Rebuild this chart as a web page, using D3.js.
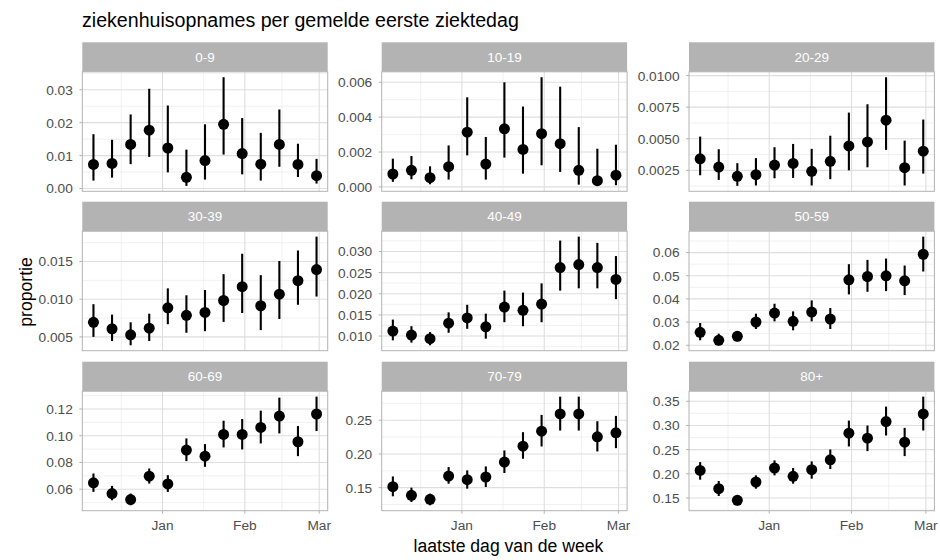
<!DOCTYPE html>
<html><head><meta charset="utf-8">
<script src="https://cdn.jsdelivr.net/npm/d3@7"></script>
<style>
body{margin:0;background:#fff}
svg text{font-family:"Liberation Sans",Arial,Helvetica,sans-serif}
</style>
</head><body>
<svg id="chart" width="940" height="560"></svg>
<script>
// ---------- data ----------
const groups = ["0-9","10-19","20-29","30-39","40-49","50-59","60-69","70-79","80+"];
const weeks = ["2020-12-06","2020-12-13","2020-12-20","2020-12-27","2021-01-03","2021-01-10","2021-01-17",
               "2021-01-24","2021-01-31","2021-02-07","2021-02-14","2021-02-21","2021-02-28"];
const xTickDates = ["2021-01-01","2021-02-01","2021-03-01"];
const xTickLabels = ["Jan","Feb","Mar"];

const estimate = [
  [0.0073,0.0076,0.0134,0.0177,0.0123,0.0034,0.0085,0.0195,0.0106,0.0074,0.0134,0.0073,0.0039],
  [0.00074,0.00095,0.00053,0.00116,0.00314,0.00131,0.00333,0.00215,0.00305,0.00248,0.00095,0.00036,0.00067],
  [0.00341,0.00276,0.00203,0.00216,0.00292,0.00305,0.00242,0.00321,0.00443,0.00475,0.00647,0.00271,0.00402],
  [0.00694,0.00607,0.00528,0.00616,0.00886,0.00786,0.00825,0.00983,0.01166,0.00913,0.01066,0.01245,0.01393],
  [0.01117,0.01023,0.00938,0.01303,0.01428,0.01218,0.01685,0.01607,0.01755,0.02619,0.02689,0.02619,0.02339],
  [0.02559,0.02215,0.02387,0.03004,0.03391,0.03032,0.03434,0.03133,0.04824,0.04968,0.04996,0.04781,0.05928],
  [0.06475,0.05675,0.05225,0.06975,0.064,0.08925,0.08475,0.101,0.101,0.10625,0.11475,0.0955,0.11625],
  [0.1515,0.1387,0.1328,0.1672,0.1618,0.1658,0.1879,0.2116,0.2337,0.2594,0.2594,0.2254,0.2313],
  [0.207,0.1692,0.1452,0.183,0.2119,0.1947,0.2084,0.229,0.284,0.2737,0.3081,0.2655,0.3239]
];
const lower = [
  [0.0024,0.0033,0.0074,0.0096,0.0049,0.0008,0.0027,0.0103,0.0043,0.0024,0.0066,0.0035,0.0015],
  [0.00029,0.00044,0.00015,0.00042,0.00181,0.00042,0.00168,0.00076,0.00124,0.00086,0.00013,0.00006,0.0001],
  [0.00211,0.00174,0.00127,0.0013,0.00187,0.0019,0.0013,0.0018,0.0025,0.00274,0.00412,0.0013,0.00224],
  [0.0050,0.00445,0.00389,0.00445,0.00668,0.00555,0.00576,0.00699,0.00817,0.0059,0.00738,0.00926,0.01035],
  [0.00899,0.00844,0.00782,0.01078,0.01171,0.00938,0.01327,0.01233,0.01327,0.02074,0.02128,0.02128,0.01872],
  [0.02215,0.0200,0.02172,0.02703,0.03032,0.02645,0.03032,0.02703,0.04194,0.04308,0.04337,0.04165,0.05183],
  [0.058,0.05175,0.048,0.06425,0.058,0.081,0.07675,0.09125,0.08975,0.09425,0.10175,0.08475,0.1035],
  [0.1372,0.1288,0.1239,0.1559,0.1485,0.151,0.1717,0.1929,0.2111,0.2347,0.2347,0.2037,0.2086],
  [0.1878,0.1541,0.1349,0.1692,0.1967,0.1796,0.1899,0.2098,0.2565,0.2469,0.2792,0.2366,0.2895]
];
const upper = [
  [0.0165,0.0148,0.0225,0.0303,0.0252,0.0118,0.0195,0.0338,0.0214,0.0169,0.0240,0.0136,0.0090],
  [0.00162,0.00177,0.00118,0.00238,0.00514,0.00286,0.0060,0.00461,0.00629,0.00575,0.00343,0.00219,0.00242],
  [0.00517,0.00417,0.00307,0.00347,0.00433,0.00459,0.0042,0.00524,0.00707,0.00773,0.00987,0.00485,0.00652],
  [0.00934,0.00795,0.00694,0.00808,0.01144,0.01052,0.01122,0.01332,0.01603,0.01319,0.01507,0.01646,0.0183],
  [0.01389,0.01233,0.01093,0.0156,0.01739,0.01529,0.02074,0.02027,0.02245,0.03257,0.0335,0.03202,0.02891],
  [0.0296,0.025,0.02602,0.03362,0.03792,0.03462,0.03935,0.03606,0.05498,0.05685,0.05742,0.05441,0.06688],
  [0.07175,0.0625,0.05675,0.0755,0.0705,0.098,0.09375,0.11125,0.1125,0.11875,0.1285,0.10725,0.12925],
  [0.1667,0.15,0.1411,0.1805,0.1756,0.1815,0.2052,0.2323,0.2579,0.285,0.285,0.2485,0.2564],
  [0.2242,0.1851,0.1555,0.1967,0.2277,0.2119,0.2256,0.2503,0.3101,0.2998,0.339,0.295,0.3596]
];
const yTickLabels = [
  ["0.00","0.01","0.02","0.03"],
  ["0.000","0.002","0.004","0.006"],
  ["0.0025","0.0050","0.0075","0.0100"],
  ["0.005","0.010","0.015"],
  ["0.010","0.015","0.020","0.025","0.030"],
  ["0.02","0.03","0.04","0.05","0.06"],
  ["0.06","0.08","0.10","0.12"],
  ["0.15","0.20","0.25"],
  ["0.15","0.20","0.25","0.30","0.35"]
];
const titleText = "ziekenhuisopnames per gemelde eerste ziektedag";
const xTitle = "laatste dag van de week";
const yTitle = "proportie";

// ---------- layout ----------
const colLeft = [82.3, 381.7, 689];
const panelW = 245.4;
const rowTop = [42.3, 201.7, 361.7];
const stripH = 29.5, plotH = 119.5;
const grey70 = "#B3B3B3", grey87 = "#DEDEDE", grey30 = "#4D4D4D";

const svg = d3.select("#chart");
svg.append("rect").attr("width",940).attr("height",560).attr("fill","#fff");

const dates = weeks.map(d => new Date(d + "T00:00:00Z"));
const dMin = d3.min(dates), dMax = d3.max(dates);
const span = dMax - dMin;
const x = d3.scaleUtc()
  .domain([new Date(+dMin - 0.05*span), new Date(+dMax + 0.05*span)])
  .range([0, panelW]);
const xMajor = xTickDates.map(d => new Date(d + "T00:00:00Z"));
const xMinorAll = [new Date("2020-12-01T00:00:00Z"), ...xMajor];
const xMinor = [];
for (let i = 0; i < xMinorAll.length - 1; i++) xMinor.push(new Date((+xMinorAll[i] + +xMinorAll[i+1]) / 2));

groups.forEach((g, gi) => {
  const col = gi % 3, row = Math.floor(gi / 3);
  const left = colLeft[col], sTop = rowTop[row], pTop = sTop + stripH;
  const lo = lower[gi], hi = upper[gi], est = estimate[gi];
  const yMin = d3.min(lo), yMax = d3.max(hi), yr = yMax - yMin;
  const y = d3.scaleLinear().domain([yMin - 0.05*yr, yMax + 0.05*yr]).range([plotH, 0]);
  const ticks = yTickLabels[gi].map(Number);
  const step = ticks[1] - ticks[0];
  const minor = [];
  for (let t = ticks[0] - step/2; t <= y.domain()[1]; t += step) if (t >= y.domain()[0]) minor.push(t);

  const p = svg.append("g").attr("transform", `translate(${left},${pTop})`);
  p.append("rect").attr("width", panelW).attr("height", plotH).attr("fill", "#fff");
  // minor grid
  p.selectAll(".ymin").data(minor).enter().append("line")
    .attr("x1",0).attr("x2",panelW).attr("y1",d=>y(d)).attr("y2",d=>y(d))
    .attr("stroke","#E8E8E8").attr("stroke-width",0.6);
  p.selectAll(".xmin").data(xMinor.filter(d => x(d) > 0 && x(d) < panelW)).enter().append("line")
    .attr("y1",0).attr("y2",plotH).attr("x1",d=>x(d)).attr("x2",d=>x(d))
    .attr("stroke","#E8E8E8").attr("stroke-width",0.6);
  // major grid
  p.selectAll(".ymaj").data(ticks).enter().append("line")
    .attr("x1",0).attr("x2",panelW).attr("y1",d=>y(d)).attr("y2",d=>y(d))
    .attr("stroke",grey87).attr("stroke-width",1.1);
  p.selectAll(".xmaj").data(xMajor.filter(d => x(d) > 0 && x(d) < panelW)).enter().append("line")
    .attr("y1",0).attr("y2",plotH).attr("x1",d=>x(d)).attr("x2",d=>x(d))
    .attr("stroke",grey87).attr("stroke-width",1.1);
  // error bars
  p.selectAll(".err").data(dates).enter().append("line")
    .attr("x1",d=>x(d)).attr("x2",d=>x(d))
    .attr("y1",(d,i)=>y(lo[i])).attr("y2",(d,i)=>y(hi[i]))
    .attr("stroke","#000").attr("stroke-width",2.1);
  // points
  p.selectAll(".pt").data(dates).enter().append("circle")
    .attr("cx",d=>x(d)).attr("cy",(d,i)=>y(est[i])).attr("r",5.5).attr("fill","#000");
  // border
  p.append("rect").attr("width",panelW).attr("height",plotH)
    .attr("fill","none").attr("stroke",grey70).attr("stroke-width",1);
  // y axis
  const ya = p.append("g");
  ya.selectAll("line").data(ticks).enter().append("line")
    .attr("x1",-3).attr("x2",0).attr("y1",d=>y(d)).attr("y2",d=>y(d))
    .attr("stroke",grey70).attr("stroke-width",1);
  ya.selectAll("text").data(ticks).enter().append("text")
    .attr("x",-9.5).attr("y",d=>y(d)).attr("dy","0.36em")
    .attr("text-anchor","end").attr("font-size",13.7).attr("fill",grey30)
    .text((d,i)=>yTickLabels[gi][i]);
  // x axis on bottom row
  if (row === 2) {
    const xa = p.append("g").attr("transform",`translate(0,${plotH})`);
    xa.selectAll("line").data(xMajor).enter().append("line")
      .attr("x1",d=>x(d)).attr("x2",d=>x(d)).attr("y1",0).attr("y2",3)
      .attr("stroke",grey70).attr("stroke-width",1);
    xa.selectAll("text").data(xMajor).enter().append("text")
      .attr("x",d=>x(d)).attr("y",19.7)
      .attr("text-anchor","middle").attr("font-size",13.7).attr("fill",grey30)
      .text((d,i)=>xTickLabels[i]);
  }
  // strip
  svg.append("rect").attr("x",left).attr("y",sTop).attr("width",panelW).attr("height",stripH)
    .attr("fill",grey70);
  svg.append("text").attr("x",left+panelW/2).attr("y",sTop+stripH/2).attr("dy","0.36em")
    .attr("text-anchor","middle").attr("font-size",13.5).attr("fill","#fff").text(g);
});

svg.append("text").attr("x",82).attr("y",27.3).attr("font-size",19.6).attr("fill","#000").text(titleText);
svg.append("text").attr("x",508.5).attr("y",551.7).attr("text-anchor","middle")
  .attr("font-size",17.6).attr("fill","#000").text(xTitle);
svg.append("text").attr("transform","translate(32,292) rotate(-90)").attr("text-anchor","middle")
  .attr("font-size",17.6).attr("fill","#000").text(yTitle);
</script>
</body></html>
